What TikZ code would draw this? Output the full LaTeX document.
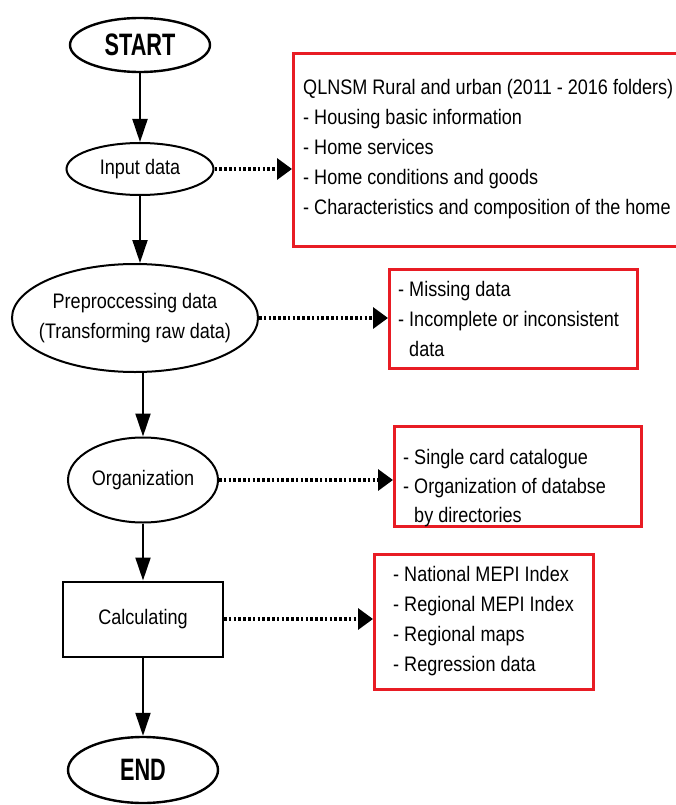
\documentclass[tikz,border=0pt]{standalone}
\usepackage{fontspec}
\setmainfont{Liberation Sans}[FakeStretch=0.86]
\newfontfamily\heavyfont{Liberation Sans}[FakeStretch=0.7]
\usepackage{tikz}
\usetikzlibrary{arrows.meta}
\usetikzlibrary{shapes.geometric}
\usetikzlibrary{positioning}
\definecolor{boxred}{RGB}{232,28,36}
\tikzset{>=Latex}
\tikzstyle{stepell} = [ellipse, draw=black, line width=2pt, inner sep=0pt, font=\fontsize{21}{30}\selectfont, align=center]
\tikzstyle{endell} = [ellipse, draw=black, line width=2.4pt, inner sep=0pt, font=\heavyfont\fontsize{31}{30}\selectfont\bfseries]
\tikzstyle{info} = [rectangle, draw=boxred, line width=2.6pt, anchor=north west, align=left, inner sep=0pt]
\tikzstyle{txt} = [anchor=west, align=left, inner sep=0pt, font=\fontsize{21}{30}\selectfont]
\tikzstyle{flow} = [-{Triangle[length=23pt, width=15pt]}, line width=2pt]
\tikzstyle{cor} = [-{Triangle[length=15pt, width=21pt]}, line width=3.4pt, dash pattern=on 2.6pt off 2.2pt]

\begin{document}
\begin{tikzpicture}[x=1pt, y=-1pt]
\useasboundingbox (0,0) rectangle (675,805);
% main flow
\node [endell, minimum width=140pt, minimum height=54pt] (S) at (140, 45) {START};
\node [stepell, minimum width=147pt, minimum height=52pt] (I) at (140, 169) {Input data};
\node [stepell, inner xsep=-20pt, minimum width=246pt, minimum height=108pt] (P) at (135, 318) {Preproccessing data\\(Transforming raw data)};
\node [stepell, minimum width=150pt, minimum height=85pt] (O) at (143, 480) {Organization};
\node [rectangle, draw=black, line width=2pt, minimum width=160pt, minimum height=75pt, font=\fontsize{21}{30}\selectfont] (C) at (143, 619) {Calculating};
\node [endell, minimum width=150pt, minimum height=66pt] (E) at (143, 770) {END};
% side boxes
\node [info, minimum width=400pt, minimum height=193pt] (B1) at (292, 52) {};
\node [info, minimum width=248pt, minimum height=99pt] (B2) at (388, 268) {};
\node [info, minimum width=247pt, minimum height=100pt] (B3) at (393, 425) {};
\node [info, minimum width=219pt, minimum height=135pt] (B4) at (373, 553) {};
% box texts
\node [txt] (T1) at (303, 149) {QLNSM Rural and urban (2011 - 2016 folders)\\- Housing basic information\\- Home services\\- Home conditions and goods\\- Characteristics and composition of the home};
\node [txt] (T2) at (398, 319) {- Missing data\\- Incomplete or inconsistent\\\phantom{- }data};
\node [txt, font=\fontsize{21}{29}\selectfont] (T3) at (403, 488) {- Single card catalogue\\- Organization of databse\\\phantom{- }by directories};
\node [txt] (T4) at (393, 621) {- National MEPI Index\\- Regional MEPI Index\\- Regional maps\\- Regression data};
% connectors
\draw [flow] (S) -- (I);
\draw [flow] (I) -- (P.north -| I);
\draw [flow] (P.south -| O) -- (O);
\draw [flow] (O) -- (C);
\draw [flow] (C) -- (E);
\draw [cor] (I.east) -- (B1.west |- I.east);
\draw [cor] (P.east) -- (B2.west |- P.east);
\draw [cor] (O.east) -- (B3.west |- O.east);
\draw [cor] (C.east) -- (B4.west |- C.east);
\end{tikzpicture}
\end{document}
